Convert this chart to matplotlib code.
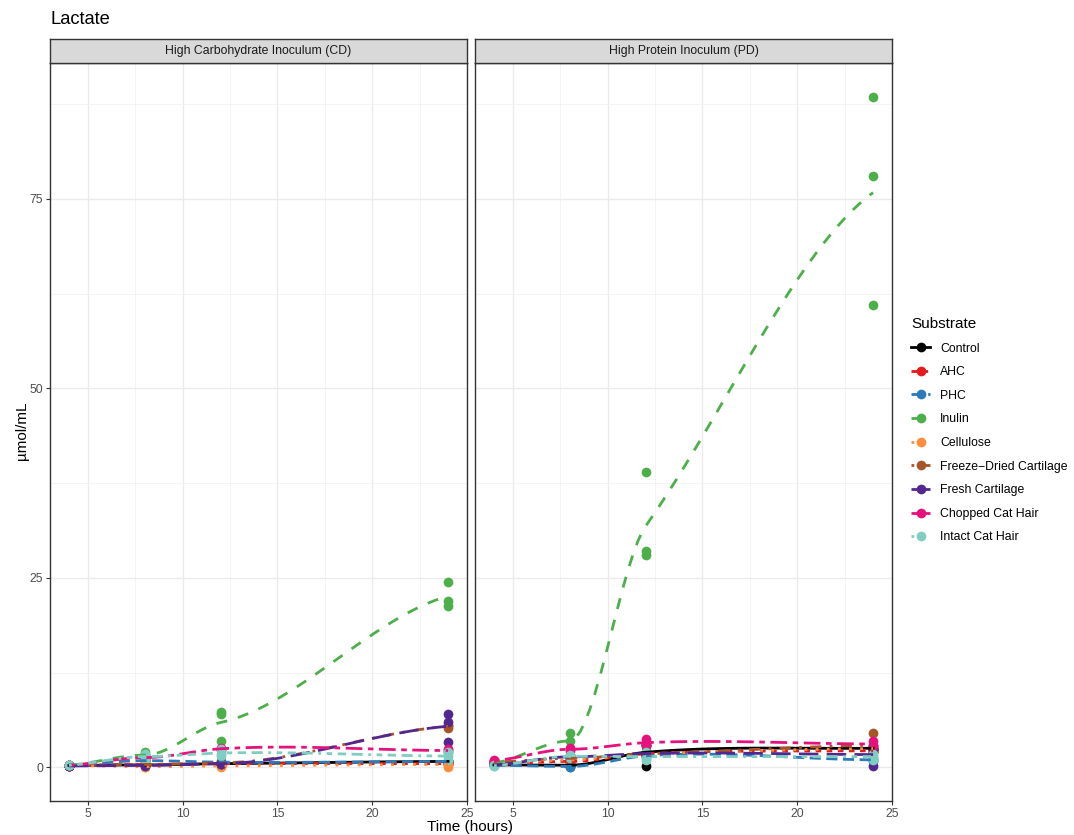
import numpy as np
import matplotlib
matplotlib.use('Agg')
import matplotlib.pyplot as plt
from matplotlib.lines import Line2D

plt.rcParams['font.family'] = ['Liberation Sans', 'DejaVu Sans']

# sampling times, three replicates each
times = [4, 4, 4, 8, 8, 8, 12, 12, 12, 24, 24, 24]

substrates = ['Control', 'AHC', 'PHC', 'Inulin', 'Cellulose',
              'Freeze\u2212Dried Cartilage', 'Fresh Cartilage',
              'Chopped Cat Hair', 'Intact Cat Hair']

panel_titles = ['High Carbohydrate Inoculum (CD)', 'High Protein Inoculum (PD)']

# lactate (umol/mL), high carbohydrate inoculum
cd_lactate = {
    'Control':   [0.3, 0.2, 0.3, 0.3, 0.4, 0.3, 0.5, 0.6, 0.4, 0.8, 0.7, 0.9],
    'AHC':       [0.3, 0.3, 0.2, 0.3, 0.4, 0.5, 0.4, 0.5, 0.6, 0.5, 0.4, 0.6],
    'PHC':       [0.3, 0.3, 0.3, 0.8, 1.0, 0.9, 0.6, 0.8, 0.7, 0.8, 0.9, 0.7],
    'Inulin':    [0.3, 0.3, 0.3, 1.3, 2.0, 1.6, 7.3, 7.0, 3.5, 24.5, 22.0, 21.3],
    'Cellulose': [0.3, 0.2, 0.3, 0.0, 0.1, 0.2, 0.0, 0.2, 0.4, 0.1, 0.3, 0.8],
    'Freeze\u2212Dried Cartilage': [0.3, 0.3, 0.3, 0.4, 0.5, 0.3, 0.5, 0.6, 0.7, 5.6, 5.2, 5.5],
    'Fresh Cartilage':  [0.2, 0.2, 0.2, 0.3, 0.3, 0.2, 0.5, 0.4, 0.6, 7.0, 3.3, 6.0],
    'Chopped Cat Hair': [0.3, 0.3, 0.3, 1.0, 1.3, 1.6, 2.5, 2.3, 2.6, 2.4, 2.0, 2.3],
    'Intact Cat Hair':  [0.3, 0.3, 0.3, 1.5, 1.8, 1.0, 1.5, 2.4, 1.8, 1.5, 1.0, 2.0],
}

# lactate (umol/mL), high protein inoculum
pd_lactate = {
    'Control':   [0.3, 0.4, 0.3, 0.3, 0.2, 0.4, 0.2, 2.9, 2.9, 2.5, 2.4, 2.7],
    'AHC':       [0.4, 0.4, 0.4, 0.8, 0.9, 0.7, 1.8, 1.6, 2.0, 2.2, 2.0, 2.4],
    'PHC':       [0.3, 0.3, 0.3, 0.1, 0.1, 0.2, 1.5, 1.7, 1.4, 1.0, 0.8, 1.2],
    'Inulin':    [0.5, 0.6, 0.6, 4.5, 3.5, 2.5, 39.0, 28.5, 28.0, 88.5, 78.0, 61.0],
    'Cellulose': [0.5, 0.4, 0.5, 1.0, 1.2, 0.8, 1.8, 1.5, 2.0, 2.5, 2.8, 2.2],
    'Freeze\u2212Dried Cartilage': [0.8, 0.7, 0.6, 1.2, 1.0, 1.4, 1.6, 1.8, 2.0, 4.6, 2.2, 2.0],
    'Fresh Cartilage':  [0.4, 0.3, 0.3, 1.6, 1.4, 1.2, 1.8, 2.0, 1.7, 0.2, 2.5, 2.4],
    'Chopped Cat Hair': [1.0, 0.9, 0.8, 2.6, 2.4, 2.2, 3.8, 3.2, 2.8, 3.5, 3.0, 2.8],
    'Intact Cat Hair':  [0.2, 0.3, 0.2, 1.5, 1.3, 1.6, 1.3, 1.0, 2.0, 1.5, 1.0, 1.8],
}

colors = ['#000000', '#E41A1C', '#2B7BBA', '#4DAF4A', '#FD8D3C',
          '#A65628', '#54278F', '#E7117E', '#80CDC1']
# ggplot-style linetypes (dash lengths in line widths)
linetypes = ['-', (0, (2, 2)), (0, (4, 2)), (0, (4, 4)), (0, (1, 3)),
             (0, (1, 3, 4, 3)), (0, (7, 3)), (0, (2, 2, 6, 2)),
             (0, (1, 2, 2, 2, 3, 2, 4, 2))]


def local_fit(x, y, x0, span=0.75):
    """value and slope of a tricube-weighted local quadratic at x0
    (equilibrated columns, minimum-norm solution when singular)"""
    q = int(np.floor(len(x) * span))
    d = np.abs(x - x0)
    near = np.argsort(d, kind='stable')[:q]
    rho = d[near[-1]]
    dn = d[near]
    w = np.where(dn < rho, (1 - (dn / rho) ** 3) ** 3, 0.0)
    s = np.sqrt(w)
    u = x[near] - x0
    B = np.vstack([s, s * u, s * u ** 2]).T
    norms = np.linalg.norm(B, axis=0)
    norms[norms == 0] = 1.0
    coef = np.linalg.lstsq(B / norms, s * y[near], rcond=None)[0] / norms
    return coef[0], coef[1]


def loess_curve(x, y, grid):
    """loess surface: local fits at the vertices, cubic Hermite in between"""
    x = np.asarray(x, float)
    y = np.asarray(y, float)
    xv = np.unique(x)
    fits = np.array([local_fit(x, y, v) for v in xv])
    vals, slopes = fits[:, 0], fits[:, 1]
    out = np.empty(len(grid))
    for i, g in enumerate(grid):
        k = int(np.clip(np.searchsorted(xv, g, side='right') - 1, 0, len(xv) - 2))
        h = xv[k + 1] - xv[k]
        t = (g - xv[k]) / h
        out[i] = ((2 * t ** 3 - 3 * t ** 2 + 1) * vals[k]
                  + (t ** 3 - 2 * t ** 2 + t) * h * slopes[k]
                  + (-2 * t ** 3 + 3 * t ** 2) * vals[k + 1]
                  + (t ** 3 - t ** 2) * h * slopes[k + 1])
    return out


fig = plt.figure(figsize=(10.74, 8.35), dpi=100)

all_vals = np.concatenate([np.ravel(list(d.values())) for d in (cd_lactate, pd_lactate)])
ymin, ymax = all_vals.min(), all_vals.max()
ypad = 0.05 * (ymax - ymin)
xmin, xmax = min(times), max(times)
xpad = 0.05 * (xmax - xmin)

grid_x = np.linspace(xmin, xmax, 80)
lefts = [50 / 1074, 475 / 1074]
ax_w = 417 / 1074
ax_b = 34 / 835
ax_h = 738 / 835
strip_h = 24 / 835

for p, (data, title) in enumerate(zip([cd_lactate, pd_lactate], panel_titles)):
    ax = fig.add_axes([lefts[p], ax_b, ax_w, ax_h])
    for i, sub in enumerate(substrates):
        ax.plot(times, data[sub], 'o', color=colors[i], markersize=7,
                markeredgewidth=0, zorder=3 + i * 0.01)
    for i, sub in enumerate(substrates):
        ax.plot(grid_x, loess_curve(times, data[sub], grid_x), color=colors[i],
                linestyle=linetypes[i], linewidth=2.0, zorder=4 + i * 0.01)

    ax.set_xlim(xmin - xpad, xmax + xpad)
    ax.set_ylim(ymin - ypad, ymax + ypad)
    ax.set_xticks([5, 10, 15, 20, 25])
    ax.set_xticks([7.5, 12.5, 17.5, 22.5], minor=True)
    ax.set_yticks([0, 25, 50, 75])
    ax.set_yticks([12.5, 37.5, 62.5, 87.5], minor=True)
    ax.grid(which='major', color='#EBEBEB', linewidth=1.0, zorder=0)
    ax.grid(which='minor', color='#F2F2F2', linewidth=0.6, zorder=0)
    ax.set_axisbelow(True)
    ax.tick_params(which='major', length=3, width=0.8, color='#333333',
                   labelsize=8.8, labelcolor='#4D4D4D', pad=2)
    ax.tick_params(which='minor', length=0)
    if p == 1:
        ax.tick_params(axis='y', which='both', left=False, labelleft=False)
    for s in ax.spines.values():
        s.set_color('#333333')
        s.set_linewidth(1.0)

    # facet strip
    sax = fig.add_axes([lefts[p], ax_b + ax_h, ax_w, strip_h])
    sax.set_facecolor('#D9D9D9')
    sax.set_xticks([])
    sax.set_yticks([])
    for s in sax.spines.values():
        s.set_color('#333333')
        s.set_linewidth(1.0)
    sax.text(0.5, 0.5, title, ha='center', va='center', fontsize=8.8,
             color='#1A1A1A', transform=sax.transAxes)

fig.text(50 / 1074, 1 - 19 / 835, 'Lactate', fontsize=13.2, ha='left', va='center')
fig.text(470 / 1074, 1 - 827 / 835, 'Time (hours)', fontsize=11, ha='center', va='center')
fig.text(22 / 1074, 1 - 431 / 835, '\u00b5mol/mL', fontsize=11, ha='center',
         va='center', rotation=90)

handles = [Line2D([0], [0], color=c, linestyle=lt, linewidth=2.0, marker='o',
                  markersize=7, markeredgewidth=0)
           for c, lt in zip(colors, linetypes)]
leg = fig.legend(handles, substrates, loc='upper left',
                 bbox_to_anchor=(906 / 1074, 1 - 312 / 835), frameon=False,
                 title='Substrate', fontsize=8.8, title_fontsize=11,
                 handlelength=1.6, handletextpad=0.8, labelspacing=0.95,
                 borderaxespad=0)
leg._legend_box.align = 'left'

fig.savefig('out.png', dpi=100)
